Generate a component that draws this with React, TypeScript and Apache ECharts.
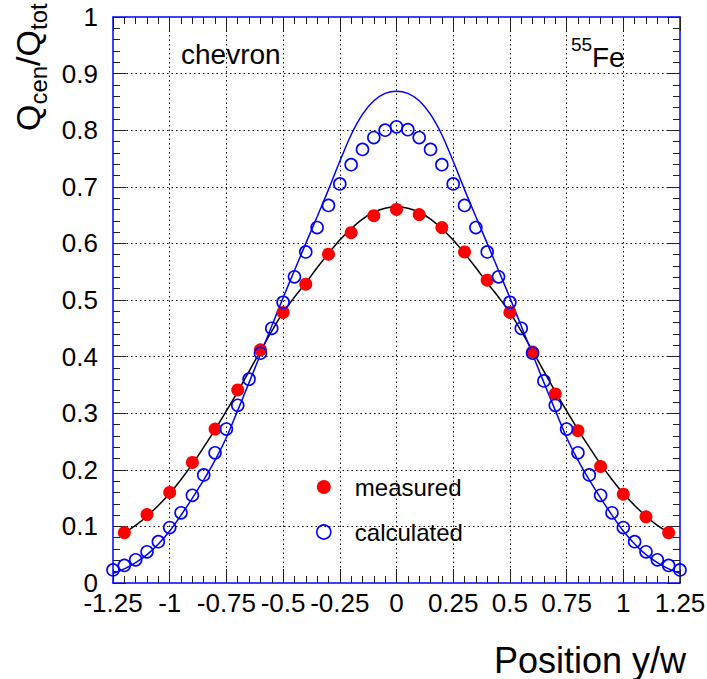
import React, { useEffect, useRef } from "react";
import * as echarts from "echarts";

// measured points (red, filled)
const measuredX = [-1.2, -1.1, -1.0, -0.9, -0.8, -0.7, -0.6, -0.5, -0.4, -0.3, -0.2, -0.1, 0, 0.1, 0.2, 0.3, 0.4, 0.5, 0.6, 0.7, 0.8, 0.9, 1.0, 1.1, 1.2];
const measuredY = [0.089, 0.121, 0.160, 0.213, 0.272, 0.341, 0.412, 0.478, 0.528, 0.581, 0.619, 0.649, 0.660, 0.651, 0.628, 0.585, 0.535, 0.478, 0.408, 0.334, 0.269, 0.206, 0.157, 0.117, 0.089];

// calculated points (blue, open)
const calcX = [-1.25, -1.2, -1.15, -1.1, -1.05, -1.0, -0.95, -0.9, -0.85, -0.8, -0.75, -0.7, -0.65, -0.6, -0.55, -0.5, -0.45, -0.4, -0.35, -0.3, -0.25, -0.2, -0.15, -0.1, -0.05, 0, 0.05, 0.1, 0.15, 0.2, 0.25, 0.3, 0.35, 0.4, 0.45, 0.5, 0.55, 0.6, 0.65, 0.7, 0.75, 0.8, 0.85, 0.9, 0.95, 1.0, 1.05, 1.1, 1.15, 1.2, 1.25];
const calcY = [0.023, 0.031, 0.041, 0.055, 0.073, 0.098, 0.124, 0.155, 0.191, 0.230, 0.272, 0.314, 0.360, 0.406, 0.450, 0.496, 0.541, 0.585, 0.628, 0.667, 0.705, 0.739, 0.766, 0.787, 0.800, 0.806, 0.801, 0.787, 0.766, 0.739, 0.705, 0.667, 0.628, 0.585, 0.541, 0.496, 0.450, 0.406, 0.357, 0.314, 0.272, 0.230, 0.191, 0.155, 0.124, 0.098, 0.073, 0.055, 0.041, 0.031, 0.023];

// blue curve
const theoryX = calcX;
const theoryY = [0.017, 0.025, 0.036, 0.050, 0.069, 0.092, 0.120, 0.150, 0.182, 0.217, 0.257, 0.305, 0.354, 0.404, 0.454, 0.504, 0.552, 0.600, 0.647, 0.695, 0.745, 0.792, 0.828, 0.852, 0.865, 0.869, 0.865, 0.852, 0.828, 0.792, 0.745, 0.695, 0.647, 0.600, 0.552, 0.504, 0.454, 0.404, 0.354, 0.305, 0.257, 0.217, 0.182, 0.150, 0.120, 0.092, 0.069, 0.050, 0.036, 0.025, 0.017];

// black curve (fit to measured)
const fitX = [-1.2, -1.15, -1.1, -1.05, -1.0, -0.95, -0.9, -0.85, -0.8, -0.75, -0.7, -0.65, -0.6, -0.55, -0.5, -0.45, -0.4, -0.35, -0.3, -0.25, -0.2, -0.15, -0.1, -0.05, 0, 0.05, 0.1, 0.15, 0.2, 0.25, 0.3, 0.35, 0.4, 0.45, 0.5, 0.55, 0.6, 0.65, 0.7, 0.75, 0.8, 0.85, 0.9, 0.95, 1.0, 1.05, 1.1, 1.15, 1.2];
const fitY = [0.089, 0.102, 0.118, 0.137, 0.158, 0.183, 0.210, 0.240, 0.271, 0.304, 0.338, 0.374, 0.410, 0.445, 0.478, 0.505, 0.530, 0.557, 0.582, 0.606, 0.626, 0.643, 0.655, 0.662, 0.665, 0.662, 0.655, 0.643, 0.626, 0.606, 0.582, 0.557, 0.530, 0.505, 0.478, 0.445, 0.410, 0.374, 0.338, 0.304, 0.271, 0.240, 0.210, 0.183, 0.158, 0.137, 0.118, 0.102, 0.089];

const xMin = -1.25;
const xMax = 1.25;
const xStep = 0.25;
const yMin = 0;
const yMax = 1;
const yStep = 0.1;

const FONT = '"Liberation Sans", Arial, Helvetica, sans-serif';
const BLUE = "#0000ff";
const RED = "#ff0000";

const pairs = (xs: number[], ys: number[]) => xs.map((x, i) => [x, ys[i]]);

export default function App() {
  const ref = useRef<HTMLDivElement>(null);
  useEffect(() => {
    if (!ref.current) return;
    const chart = echarts.init(ref.current, null, { renderer: "svg" });
    const frameLine = { show: true, onZero: false, lineStyle: { color: BLUE, width: 1.5 } };
    const tickStyle = { color: "#222", width: 1 };
    const grid = { type: [1.5, 3], color: "#000", width: 1 };
    const xCommon = {
      type: "value",
      min: xMin,
      max: xMax,
      interval: xStep,
      axisLine: frameLine,
      axisTick: { show: true, inside: true, length: 14, lineStyle: tickStyle },
      minorTick: { show: true, splitNumber: 5, length: 7, lineStyle: tickStyle },
    };
    const yCommon = {
      type: "value",
      min: yMin,
      max: yMax,
      interval: yStep,
      axisLine: frameLine,
      axisTick: { show: true, inside: true, length: 13, lineStyle: tickStyle },
      minorTick: { show: true, splitNumber: 5, length: 7, lineStyle: tickStyle },
    };
    chart.setOption({
      animation: false,
      backgroundColor: "#fff",
      grid: { left: 113, top: 17, right: 27, bottom: 96, containLabel: false, outerBoundsMode: "none" },
      xAxis: [
        {
          ...xCommon,
          position: "bottom",
          splitLine: { show: true, showMinLine: false, showMaxLine: false, lineStyle: grid },
          axisLabel: { show: true, margin: 7, fontSize: 26, fontFamily: FONT, color: "#000", showMinLabel: true, showMaxLabel: true, hideOverlap: false },
        },
        {
          ...xCommon,
          position: "top",
          splitLine: { show: false },
          axisLabel: { show: false },
        },
      ],
      yAxis: [
        {
          ...yCommon,
          position: "left",
          splitLine: { show: true, showMinLine: false, showMaxLine: false, lineStyle: grid },
          axisLabel: { show: true, margin: 15, fontSize: 26, fontFamily: FONT, color: "#000", showMinLabel: true, showMaxLabel: true, hideOverlap: false },
        },
        {
          ...yCommon,
          position: "right",
          splitLine: { show: false },
          axisLabel: { show: false },
        },
      ],
      legend: {
        show: true,
        orient: "vertical",
        left: 311,
        top: 469,
        itemWidth: 14,
        itemHeight: 14,
        itemGap: 19,
        selectedMode: false,
        textStyle: { fontSize: 24, fontFamily: FONT, color: "#000", padding: [0, 0, 0, 19], lineHeight: 26 },
        data: [
          { name: "measured", icon: "circle", itemStyle: { color: RED, opacity: 1 } },
          { name: "calculated", icon: "circle", itemStyle: { color: "rgba(0,0,0,0)", borderColor: BLUE, borderWidth: 1.6, opacity: 1 } },
        ],
      },
      series: [
        {
          name: "fit",
          type: "line",
          data: pairs(fitX, fitY),
          smooth: 0.3,
          showSymbol: false,
          symbol: "none",
          lineStyle: { color: "#000", width: 1.5 },
          itemStyle: { color: "#000" },
          z: 3,
        },
        {
          name: "theory",
          type: "line",
          data: pairs(theoryX, theoryY),
          smooth: 0.3,
          showSymbol: false,
          symbol: "none",
          lineStyle: { color: BLUE, width: 1.5 },
          itemStyle: { color: BLUE },
          z: 3,
        },
        {
          name: "measured",
          type: "scatter",
          data: pairs(measuredX, measuredY),
          symbol: "circle",
          symbolSize: 13,
          itemStyle: { color: RED, opacity: 1 },
          z: 4,
        },
        {
          name: "calculated",
          type: "scatter",
          data: pairs(calcX, calcY),
          symbol: "circle",
          symbolSize: 12,
          itemStyle: { color: "rgba(0,0,0,0)", borderColor: BLUE, borderWidth: 1.6, opacity: 1 },
          z: 4,
        },
      ],
      graphic: [
        {
          type: "text",
          x: 181,
          y: 54,
          style: { text: "chevron", fontSize: 28, fontFamily: FONT, fill: "#000", align: "left", verticalAlign: "middle" },
          z: 10,
        },
        {
          type: "text",
          x: 571,
          y: 44,
          style: { text: "55", fontSize: 19, fontFamily: FONT, fill: "#000", align: "left", verticalAlign: "middle" },
          z: 10,
        },
        {
          type: "text",
          x: 592,
          y: 57,
          style: { text: "Fe", fontSize: 28, fontFamily: FONT, fill: "#000", align: "left", verticalAlign: "middle" },
          z: 10,
        },
        {
          type: "text",
          x: 686,
          y: 660,
          style: { text: "Position y/w", fontSize: 36, fontFamily: FONT, fill: "#000", align: "right", verticalAlign: "middle" },
          z: 10,
        },
        {
          type: "group",
          x: 28,
          y: 131,
          rotation: Math.PI / 2,
          z: 10,
          children: [
            { type: "text", x: 0, y: 0, style: { text: "Q", fontSize: 34, fontFamily: FONT, fill: "#000", align: "left", verticalAlign: "middle" } },
            { type: "text", x: 26.5, y: 10, style: { text: "cen", fontSize: 24, fontFamily: FONT, fill: "#000", align: "left", verticalAlign: "middle" } },
            { type: "text", x: 65, y: 0, style: { text: "/Q", fontSize: 34, fontFamily: FONT, fill: "#000", align: "left", verticalAlign: "middle" } },
            { type: "text", x: 101, y: 10, style: { text: "tot", fontSize: 24, fontFamily: FONT, fill: "#000", align: "left", verticalAlign: "middle" } },
          ],
        },
      ],
    });
    return () => chart.dispose();
  }, []);
  return (
    <div
      ref={ref}
      style={{ position: "absolute", left: 0, top: 0, width: 707, height: 679, background: "#fff" }}
    />
  );
}
